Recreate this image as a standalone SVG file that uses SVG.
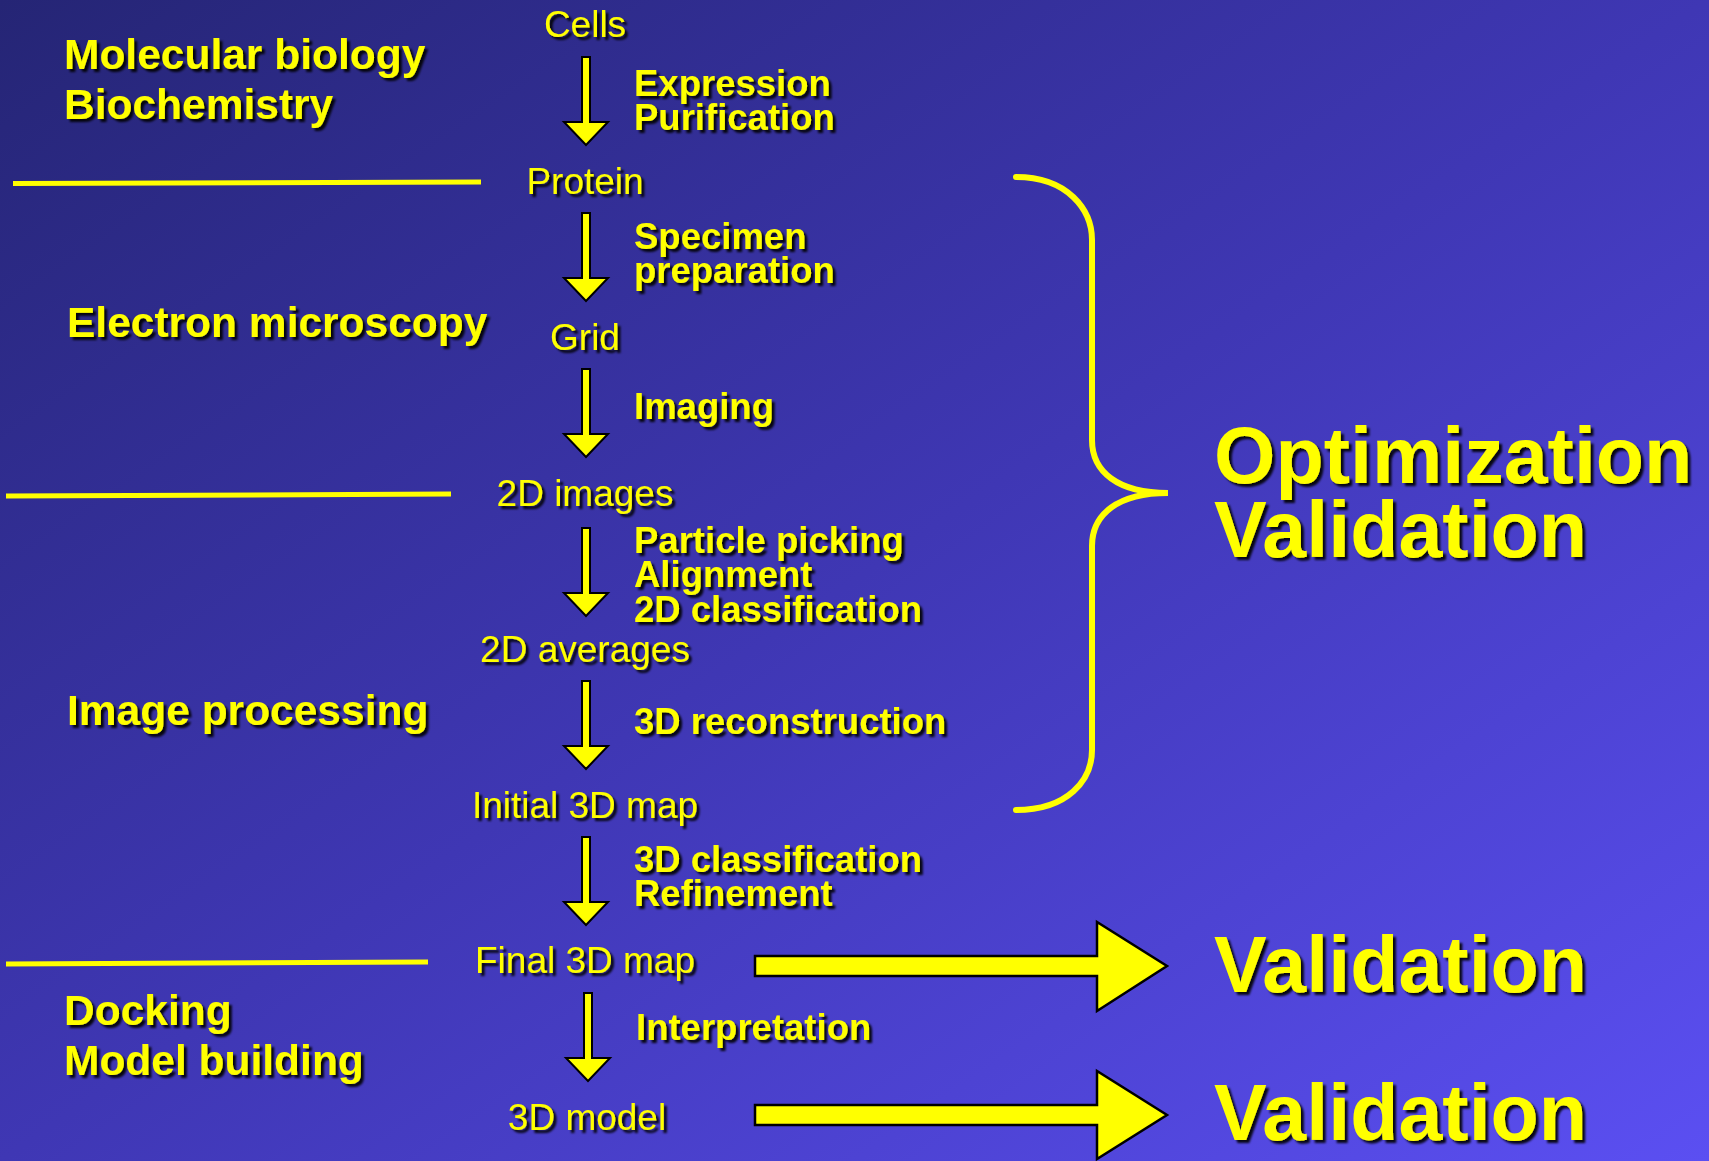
<svg xmlns="http://www.w3.org/2000/svg" xmlns:xlink="http://www.w3.org/1999/xlink" width="1709" height="1161" viewBox="0 0 1709 1161">
<defs>
<linearGradient id="bg" x1="0" y1="0" x2="1" y2="1">
<stop offset="0" stop-color="#252575"/>
<stop offset="0.5" stop-color="#3f37b4"/>
<stop offset="1" stop-color="#5b4ff2"/>
</linearGradient>
<filter id="sh" x="-10%" y="-20%" width="130%" height="150%">
<feDropShadow dx="3" dy="3" stdDeviation="1" flood-color="#000" flood-opacity="0.9"/>
</filter>
<path id="darrow" d="M-4,0 L4,0 L4,65 L22,65 L0,88 L-22,65 L-4,65 Z" fill="#ffff00" stroke="#000" stroke-width="2" stroke-linejoin="miter"/>
</defs>
<style>
text{fill:#ffff00;font-family:"Liberation Sans",Arial,Helvetica,sans-serif;filter:url(#sh)}
.node{font-size:37px;text-anchor:middle}
.step{font-size:36.5px;font-weight:bold}
.area{font-size:42.5px;font-weight:bold}
.big{font-size:79px;font-weight:bold}
.sep{stroke:#ffff00;stroke-width:5;fill:none}
.fat{fill:#ffff00;stroke:#000;stroke-width:2.5}
</style>
<rect width="1709" height="1161" fill="url(#bg)"/>

<g id="areas">
<text class="area" x="64" y="69">Molecular biology</text>
<text class="area" x="64" y="119">Biochemistry</text>
<text class="area" x="67" y="337">Electron microscopy</text>
<text class="area" x="67" y="725">Image processing</text>
<text class="area" x="64" y="1025">Docking</text>
<text class="area" x="64" y="1075">Model building</text>
</g>

<g id="separators">
<path class="sep" d="M13,183.5 L481,182"/>
<path class="sep" d="M6,496 L451,494"/>
<path class="sep" d="M6,964 L428,962"/>
</g>

<g id="node-cells"><text class="node" x="585" y="37">Cells</text></g>
<g id="node-protein"><text class="node" x="585" y="194">Protein</text></g>
<g id="node-grid"><text class="node" x="585" y="350">Grid</text></g>
<g id="node-2dimages"><text class="node" x="585" y="506">2D images</text></g>
<g id="node-2daverages"><text class="node" x="585" y="662">2D averages</text></g>
<g id="node-initial"><text class="node" x="585" y="818">Initial 3D map</text></g>
<g id="node-final"><text class="node" x="585" y="973">Final 3D map</text></g>
<g id="node-model"><text class="node" x="587" y="1130">3D model</text></g>

<g id="connectors">
<use xlink:href="#darrow" href="#darrow" x="586" y="57"/>
<use xlink:href="#darrow" href="#darrow" x="586" y="213"/>
<use xlink:href="#darrow" href="#darrow" x="586" y="369"/>
<use xlink:href="#darrow" href="#darrow" x="586" y="528"/>
<use xlink:href="#darrow" href="#darrow" x="586" y="681"/>
<use xlink:href="#darrow" href="#darrow" x="586" y="837"/>
<use xlink:href="#darrow" href="#darrow" x="588" y="993"/>
<polygon class="fat" points="755,956 1097,956 1097,922 1167,966 1097,1011 1097,976 755,976"/>
<polygon class="fat" points="755,1105 1097,1105 1097,1071 1167,1115 1097,1159 1097,1125 755,1125"/>
<path d="M1016,177 C1068,177 1092,210 1092,240 L1092,440 C1092,472 1118,493 1168,493 C1118,493 1092,514 1092,546 L1092,750 C1092,780 1068,810 1016,810" fill="none" stroke="#ffff00" stroke-width="6" stroke-linecap="round"/>
</g>

<g id="step-labels">
<text class="step" x="634" y="96">Expression</text>
<text class="step" x="634" y="130">Purification</text>
<text class="step" x="634" y="249">Specimen</text>
<text class="step" x="634" y="283">preparation</text>
<text class="step" x="634" y="419">Imaging</text>
<text class="step" x="634" y="553">Particle picking</text>
<text class="step" x="634" y="587">Alignment</text>
<text class="step" x="634" y="622">2D classification</text>
<text class="step" x="634" y="734">3D reconstruction</text>
<text class="step" x="634" y="872">3D classification</text>
<text class="step" x="634" y="906">Refinement</text>
<text class="step" x="636" y="1040">Interpretation</text>
</g>

<g id="validation">
<text class="big" x="1214" y="483">Optimization</text>
<text class="big" x="1214" y="557">Validation</text>
<text class="big" x="1214" y="992">Validation</text>
<text class="big" x="1214" y="1140">Validation</text>
</g>
</svg>
